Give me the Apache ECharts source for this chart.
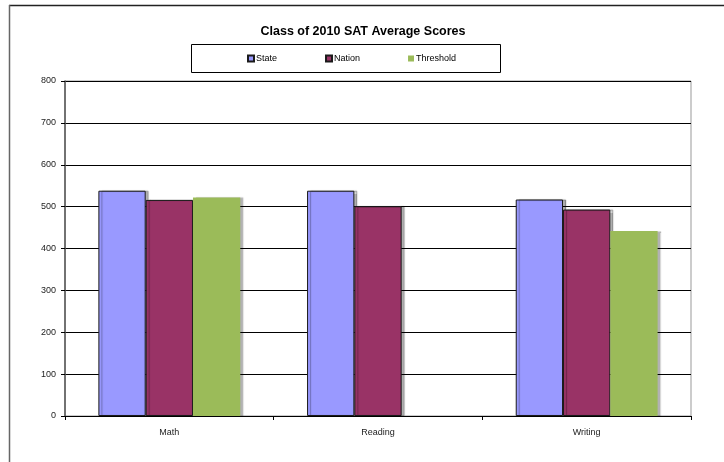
<!DOCTYPE html>
<html><head><meta charset="utf-8">
<script src="https://cdn.jsdelivr.net/npm/echarts@6/dist/echarts.min.js"></script>
<style>html,body{margin:0;padding:0;background:#fff}#c{width:724px;height:462px}</style>
</head><body><div id="c"></div>
<script>
var categories = ['Math', 'Reading', 'Writing'];
var stateScores = [538, 538, 517];
var nationScores = [516, 501, 493];
var thresholdScores = [522, null, 442];
var yTicks = [0, 100, 200, 300, 400, 500, 600, 700, 800];

var chart = echarts.init(document.getElementById('c'));
var font = 'Liberation Sans, Arial, sans-serif';
function barSeries(name, data, color, border) {
  return {
    name: name, type: 'bar', data: data, barGap: '0%', barCategoryGap: '32%',
    itemStyle: {
      color: color,
      borderColor: border ? '#1a1a1a' : color,
      borderWidth: border ? 1 : 0,
      shadowColor: 'rgba(0,0,0,0.3)', shadowBlur: 1, shadowOffsetX: 3, shadowOffsetY: 0
    }
  };
}
chart.setOption({
  animation: false,
  backgroundColor: '#fff',
  title: {
    text: 'Class of 2010 SAT Average Scores', left: 358, textAlign: 'center', top: 20,
    textStyle: {fontFamily: font, fontSize: 12.5, fontWeight: 'bold', color: '#000'}
  },
  legend: {
    left: 242, top: 49, itemWidth: 6, itemHeight: 6, itemGap: 48,
    icon: 'rect',
    textStyle: {fontFamily: font, fontSize: 9, color: '#000', padding: [0, 0, 0, -3]},
    data: ['State', 'Nation', 'Threshold']
  },
  graphic: [
    {type: 'rect', shape: {x: 191.5, y: 44.5, width: 309, height: 28}, style: {fill: null, stroke: '#000', lineWidth: 1}, silent: true},
    {type: 'line', shape: {x1: 9, y1: 5.5, x2: 724, y2: 5.5}, style: {stroke: '#222', lineWidth: 1.5}},
    {type: 'line', shape: {x1: 9.5, y1: 5, x2: 9.5, y2: 462}, style: {stroke: '#666', lineWidth: 1.5}}
  ],
  grid: {left: 65, right: 33, top: 81, bottom: 46, show: true, borderColor: '#999', borderWidth: 1},
  xAxis: {
    type: 'category', data: categories,
    axisLine: {lineStyle: {color: '#000', width: 1}},
    axisTick: {show: true, length: 4, lineStyle: {color: '#000'}},
    axisLabel: {fontFamily: font, fontSize: 9, color: '#222', margin: 12}
  },
  yAxis: {
    type: 'value', min: yTicks[0], max: yTicks[yTicks.length - 1], interval: 100,
    axisLine: {show: true, lineStyle: {color: '#555', width: 1.5}},
    axisTick: {show: true, length: 4, lineStyle: {color: '#000'}},
    axisLabel: {fontFamily: font, fontSize: 9, color: '#222', margin: 9},
    splitLine: {lineStyle: {color: '#000', width: 1}}
  },
  series: [
    barSeries('State', stateScores, '#9999FF', true),
    barSeries('Nation', nationScores, '#993366', true),
    barSeries('Threshold', thresholdScores, '#9BBB59', false)
  ]
});
</script></body></html>
